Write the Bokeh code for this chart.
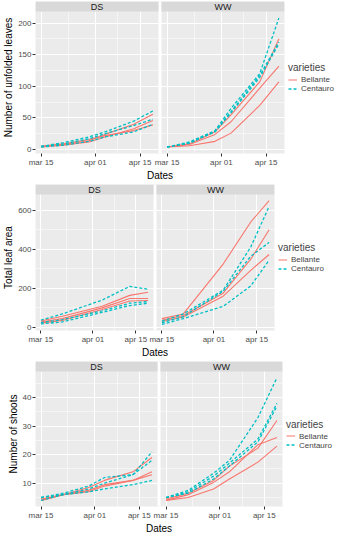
import pandas as pd
from bokeh.plotting import figure
from bokeh.models import Range1d, FixedTicker, BoxAnnotation, Label, Legend, LegendItem
from bokeh.layouts import column
from bokeh.embed import file_html
from bokeh.resources import INLINE

# ---------------- data ----------------
tick_dates = ["2019-03-15", "2019-04-01", "2019-04-15"]
tick_labels = ["mar 15", "apr 01", "apr 15"]
minor_dates = ["2019-03-23 12:00", "2019-04-08"]

treatments = ["DS", "WW"]
varieties = ["Bellante", "Centauro"]

# Number of unfolded leaves
leaves_dates = ["2019-03-15", "2019-03-22", "2019-03-30", "2019-04-04", "2019-04-13", "2019-04-19"]
leaves_DS_Bellante = [[5, 8, 14, 24, 40, 56], [4, 7, 12, 20, 33, 46], [5, 9, 16, 22, 30, 39]]
leaves_DS_Centauro = [[5, 11, 20, 28, 45, 61], [5, 9, 17, 25, 38, 48], [4, 7, 13, 20, 28, 40]]
leaves_WW_Bellante = [[4, 9, 28, 55, 107, 175], [4, 8, 24, 44, 97, 132], [4, 6, 13, 26, 70, 107]]
leaves_WW_Centauro = [[4, 12, 30, 65, 120, 208], [4, 11, 29, 60, 117, 170], [4, 10, 28, 58, 114, 167]]

# Total leaf area
area_dates = ["2019-03-15", "2019-03-22", "2019-04-04", "2019-04-13", "2019-04-19"]
area_DS_Bellante = [[33, 57, 108, 164, 180], [28, 45, 100, 148, 148], [22, 36, 92, 135, 138]]
area_DS_Centauro = [[37, 69, 140, 210, 195], [25, 40, 85, 124, 132], [18, 28, 77, 112, 124]]
area_WW_Bellante = [[45, 69, 324, 539, 648], [37, 61, 175, 349, 499], [30, 53, 160, 292, 373]]
area_WW_Centauro = [[32, 69, 190, 411, 619], [24, 55, 185, 364, 435], [16, 45, 108, 212, 344]]

# Number of shoots
shoots_dates = ["2019-03-15", "2019-03-22", "2019-03-30", "2019-04-04", "2019-04-13", "2019-04-19"]
shoots_DS_Bellante = [[4, 6, 8.5, 11, 14, 19], [4.5, 6, 7.5, 9.5, 11, 14], [4, 6, 7, 9, 11, 13]]
shoots_DS_Centauro = [[5, 6.5, 9, 12, 13, 21], [5, 6, 8, 10, 13, 18], [4, 6, 7, 8, 9.5, 11]]
shoots_WW_Bellante = [[4.5, 6.5, 11, 16, 22.3, 32], [4, 6, 10.3, 14, 23.5, 26], [4, 5, 8, 11.5, 17.4, 23]]
shoots_WW_Centauro = [[5, 7.5, 13.5, 18, 33, 47], [5, 7, 12.5, 17, 25.5, 38], [5, 6.5, 11.5, 16, 24.5, 37]]

leaves_yticks = [0, 50, 100, 150, 200]
area_yticks = [0, 200, 400, 600]
shoots_yticks = [10, 20, 30, 40]

# ---------------- style ----------------
FONT = "Liberation Sans"
COLORS = {"Bellante": "#F8766D", "Centauro": "#00BFC4"}
DASH = {"Bellante": "solid", "Centauro": "3 2"}
WIDTH = {"Bellante": 1.1, "Centauro": 1.3}

origin = pd.Timestamp(tick_dates[0])


def days(lst):
    return [(pd.Timestamp(d) - origin).total_seconds() / 86400.0 for d in lst]


def minor_between(ticks, lo, hi):
    step = ticks[1] - ticks[0]
    m = [t + step / 2 for t in ticks[:-1]]
    m = [ticks[0] - step / 2] + m + [ticks[-1] + step / 2]
    return [v for v in m if lo <= v <= hi]


def make_row(ylabel, dates, series, yticks, panel_px, panel_h, left, strip_px=10, gap_px=3):
    xd = days(dates)
    span = max(xd) - min(xd)
    xlo, xhi = min(xd) - 0.05 * span, max(xd) + 0.05 * span
    pspan = xhi - xlo
    gap = pspan * gap_px / panel_px
    off = pspan + gap

    allv = [v for t in treatments for var in varieties for s in series[t][var] for v in s]
    vmin, vmax = min(allv), max(allv)
    ylo, yhi = vmin - 0.05 * (vmax - vmin), vmax + 0.05 * (vmax - vmin)
    ytop = yhi + (yhi - ylo) * strip_px / panel_h

    fw = 2 * panel_px + gap_px
    fh = panel_h + strip_px
    p = figure(frame_width=fw, frame_height=fh,
               x_range=Range1d(xlo, xhi + off), y_range=Range1d(ylo, ytop),
               output_backend="svg", toolbar_location=None,
               min_border_left=left, min_border_right=0, min_border_top=1, min_border_bottom=0,
               background_fill_color="#EBEBEB", border_fill_color="white",
               outline_line_color=None)

    # ticks
    tdays = days(tick_dates)
    mdays = days(minor_dates)
    xt = [round(t, 4) for t in tdays] + [round(t + off, 4) for t in tdays]
    xm = [round(t, 4) for t in mdays] + [round(t + off, 4) for t in mdays]
    overrides = {}
    for i, t in enumerate(xt):
        overrides[t] = tick_labels[i % len(tick_labels)]
    xticker = FixedTicker(ticks=xt, minor_ticks=xm)
    yticker = FixedTicker(ticks=yticks, minor_ticks=minor_between(yticks, ylo, yhi))

    p.xaxis.ticker = xticker
    p.yaxis.ticker = yticker
    p.xgrid.ticker = xticker
    p.ygrid.ticker = yticker
    p.xaxis.major_label_overrides = overrides

    for g in (p.xgrid, p.ygrid):
        g.grid_line_color = "white"
        g.grid_line_width = 1
        g.minor_grid_line_color = "white"
        g.minor_grid_line_width = 0.5

    for ax in (p.xaxis, p.yaxis):
        ax.axis_line_color = None
        ax.major_tick_line_color = "#333333"
        ax.major_tick_out = 3
        ax.major_tick_in = 0
        ax.minor_tick_out = 0
        ax.minor_tick_in = 0
        ax.major_label_text_font = FONT
        ax.major_label_text_font_size = "8px"
        ax.major_label_text_color = "#4D4D4D"
        ax.axis_label_text_font = FONT
        ax.axis_label_text_font_size = "10px"
        ax.axis_label_text_font_style = "normal"
        ax.axis_label_text_color = "black"
    p.xaxis.axis_label = "Dates"
    p.xaxis.major_label_standoff = 1
    p.xaxis.axis_label_standoff = 0
    p.yaxis.axis_label = ylabel
    p.yaxis.major_label_standoff = 1
    p.yaxis.axis_label_standoff = 1

    first = {}
    for k, t in enumerate(treatments):
        o = off * k
        for var in varieties:
            for s in series[t][var]:
                r = p.line([x + o for x in xd], s, line_color=COLORS[var],
                           line_width=WIDTH[var], line_dash=DASH[var])
                first.setdefault(var, r)

    # gap between panels
    p.add_layout(BoxAnnotation(left=xhi, right=xlo + off, bottom=ylo, top=ytop,
                               fill_color="white", fill_alpha=1, line_color=None))
    # strips
    for k, t in enumerate(treatments):
        o = off * k
        p.add_layout(BoxAnnotation(left=xlo + o, right=xhi + o, bottom=yhi, top=ytop,
                                   fill_color="#D9D9D9", fill_alpha=1, line_color=None))
        p.add_layout(Label(x=(xlo + xhi) / 2 + o, y=(yhi + ytop) / 2, text=t,
                           text_align="center", text_baseline="middle",
                           text_font=FONT, text_font_size="9px", text_color="#1A1A1A"))

    legend = Legend(items=[LegendItem(label=v, renderers=[first[v]]) for v in varieties],
                    title="varieties", location="center_left",
                    title_text_font=FONT, title_text_font_size="10px",
                    title_text_font_style="normal", title_standoff=2,
                    label_text_font=FONT, label_text_font_size="8px",
                    label_height=8, glyph_height=8, glyph_width=9, spacing=0,
                    padding=2, margin=4, label_standoff=4,
                    border_line_color=None, background_fill_alpha=0)
    p.add_layout(legend, "right")
    return p


def series_of(prefix):
    g = globals()
    return {t: {v: g[f"{prefix}_{t}_{v}"] for v in varieties} for t in treatments}


p1 = make_row("Number of unfolded leaves", leaves_dates, series_of("leaves"), leaves_yticks,
              panel_px=123, panel_h=142, left=20)
p2 = make_row("Total leaf area", area_dates, series_of("area"), area_yticks,
              panel_px=118, panel_h=136, left=20)
p3 = make_row("Number of shoots", shoots_dates, series_of("shoots"), shoots_yticks,
              panel_px=122, panel_h=135, left=16)

layout = column(p1, p2, p3, spacing=0)
open("out.html", "w").write(file_html(layout, INLINE))
